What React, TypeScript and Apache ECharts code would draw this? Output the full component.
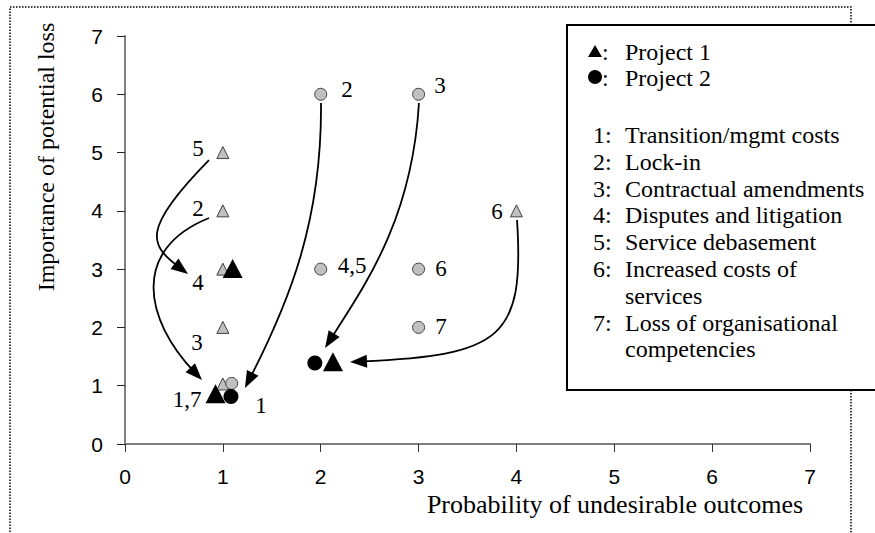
import React, { useEffect, useRef } from "react";
import * as echarts from "echarts";

// ---- data ----
const AXIS_MIN = 0;
const AXIS_MAX = 7;
const AXIS_STEP = 1;

// [probability, importance]
const project1Before: number[][] = [[1, 5], [1, 4], [1, 3], [1, 2], [1, 1.03], [4, 4]];
const project2Before: number[][] = [[2, 6], [3, 6], [2, 3], [3, 3], [3, 2], [1.09, 1.04]];
const project1After: number[][] = [[1.1, 3.01], [0.925, 0.86], [2.125, 1.41]];
const project2After: number[][] = [[1.083, 0.815], [1.94, 1.39]];

// label anchor [x, y] and text
const labelPositions: number[][] = [
  [0.746, 5.078], [0.746, 4.049], [0.746, 2.779], [0.736, 1.75], [0.634, 0.755],
  [1.39, 0.652], [2.269, 6.09], [3.219, 6.159], [2.32, 3.054], [3.229, 3.019],
  [3.229, 2.024], [3.801, 3.997],
];
const labelTexts: string[] = ["5", "2", "4", "3", "1,7", "1", "2", "3", "4,5", "6", "7", "6"];

// cubic curves: start, control 1, control 2, end (data units)
const arrowPaths: number[][] = [
  [0.858, 4.872, 0.153, 3.671, 0.255, 3.414, 0.644, 2.916],
  [0.858, 3.877, 0.051, 3.328, 0.204, 2.127, 0.787, 1.098],
  [2.003, 5.85, 2.013, 3.843, 1.686, 2.47, 1.226, 0.961],
  [3.004, 5.85, 2.933, 3.843, 2.452, 2.728, 2.044, 1.647],
  [4.006, 3.843, 4.087, 1.784, 3.832, 1.527, 2.299, 1.407],
];

const projectNames: string[] = ["Project 1", "Project 2"];
const riskNumbers: string[] = ["1:", "2:", "3:", "4:", "5:", "6:", "7:"];
const riskNames: string[] = [
  "Transition/mgmt costs",
  "Lock-in",
  "Contractual amendments",
  "Disputes and litigation",
  "Service debasement",
  "Increased costs of\nservices",
  "Loss of organisational\ncompetencies",
];
const xTitle = "Probability of undesirable outcomes";
const yTitle = "Importance of potential loss";

const SERIF = "Liberation Serif";
const SANS = "Liberation Sans";

function txt(text: string, size: number, family: string, align: string, vAlign: string) {
  return {
    text,
    fontSize: size,
    fontFamily: family,
    fill: "#000",
    align,
    verticalAlign: vAlign,
    textAlign: align,
    textVerticalAlign: vAlign,
  };
}

export default function App() {
  const ref = useRef<HTMLDivElement>(null);
  useEffect(() => {
    if (!ref.current) return;
    const chart = echarts.init(ref.current, undefined, { renderer: "svg" });

    const legendChildren: any[] = [
      {
        type: "rect",
        shape: { x: 567, y: 25, width: 330, height: 365 },
        style: { fill: "#fff", stroke: "#000", lineWidth: 2 },
      },
      {
        type: "polygon",
        shape: { points: [[588, 57], [602, 57], [595, 45]] },
        style: { fill: "#000" },
      },
      {
        type: "circle",
        shape: { cx: 595, cy: 77, r: 7 },
        style: { fill: "#000" },
      },
    ];
    projectNames.forEach((name, i) => {
      const y = 52 + i * 25.5;
      legendChildren.push({ type: "text", x: 602, y, style: txt(":", 24, SERIF, "left", "middle") });
      legendChildren.push({ type: "text", x: 625, y, style: txt(name, 24, SERIF, "left", "middle") });
    });
    let line = 0;
    riskNames.forEach((name, i) => {
      const y = 135 + line * 26.8;
      legendChildren.push({ type: "text", x: 593, y, style: txt(riskNumbers[i], 24, SERIF, "left", "middle") });
      name.split("\n").forEach((part, k) => {
        legendChildren.push({ type: "text", x: 625, y: y + k * 26.8, style: txt(part, 24, SERIF, "left", "middle") });
      });
      line += name.split("\n").length;
    });

    const option: any = {
      animation: false,
      backgroundColor: "#fff",
      grid: { left: 125, right: 65, top: 36, bottom: 89, containLabel: false },
      xAxis: {
        type: "value",
        min: AXIS_MIN,
        max: AXIS_MAX,
        interval: AXIS_STEP,
        axisLine: { show: true, onZero: false, lineStyle: { color: "#7f7f7f", width: 2 } },
        axisTick: { show: true, length: 8, lineStyle: { color: "#333", width: 1 } },
        axisLabel: { color: "#000", fontFamily: SANS, fontSize: 21, margin: 22 },
        splitLine: { show: false },
      },
      yAxis: {
        type: "value",
        min: AXIS_MIN,
        max: AXIS_MAX,
        interval: AXIS_STEP,
        axisLine: { show: true, onZero: false, lineStyle: { color: "#7f7f7f", width: 2 } },
        axisTick: { show: true, length: 8, lineStyle: { color: "#222", width: 1 } },
        axisLabel: { color: "#000", fontFamily: SANS, fontSize: 21, margin: 22 },
        splitLine: { show: false },
      },
      graphic: [
        {
          type: "rect",
          z: -10,
          shape: { x: 10, y: 7, width: 841, height: 620 },
          style: { fill: "none", stroke: "#000", lineWidth: 1.5, lineDash: [1.5, 1.5] },
        },
        {
          type: "text",
          x: 46,
          y: 157,
          rotation: Math.PI / 2,
          style: txt(yTitle, 24, SERIF, "center", "middle"),
        },
        {
          type: "text",
          x: 615,
          y: 504,
          style: txt(xTitle, 26, SERIF, "center", "middle"),
        },
        { type: "group", z: 100, children: legendChildren },
      ],
      series: [
        {
          type: "custom",
          name: "arrows",
          data: arrowPaths,
          z: 1,
          renderItem: (params: any, api: any) => {
            const p0 = api.coord([api.value(0), api.value(1)]);
            const p1 = api.coord([api.value(2), api.value(3)]);
            const p2 = api.coord([api.value(4), api.value(5)]);
            const p3 = api.coord([api.value(6), api.value(7)]);
            let dx = p3[0] - p2[0];
            let dy = p3[1] - p2[1];
            const len = Math.hypot(dx, dy) || 1;
            dx /= len;
            dy /= len;
            const L = 17;
            const W = 6.5;
            const bx = p3[0] - dx * L;
            const by = p3[1] - dy * L;
            const nx = -dy;
            const ny = dx;
            return {
              type: "group",
              children: [
                {
                  type: "bezierCurve",
                  shape: {
                    x1: p0[0], y1: p0[1],
                    cpx1: p1[0], cpy1: p1[1],
                    cpx2: p2[0], cpy2: p2[1],
                    x2: bx + dx * 6, y2: by + dy * 6,
                  },
                  style: { stroke: "#000", lineWidth: 1.8, fill: "none" },
                },
                {
                  type: "polygon",
                  shape: { points: [[p3[0], p3[1]], [bx + nx * W, by + ny * W], [bx - nx * W, by - ny * W]] },
                  style: { fill: "#000" },
                },
              ],
            };
          },
        },
        {
          type: "custom",
          name: "labels",
          data: labelPositions,
          z: 3,
          renderItem: (params: any, api: any) => {
            const p = api.coord([api.value(0), api.value(1)]);
            return {
              type: "text",
              x: p[0],
              y: p[1],
              style: txt(labelTexts[params.dataIndex], 23, SERIF, "center", "middle"),
            };
          },
        },
        {
          type: "scatter",
          name: "Project 1 (before)",
          data: project1Before,
          symbol: "triangle",
          symbolSize: [12, 12],
          itemStyle: { color: "#c0c0c0", borderColor: "#404040", borderWidth: 1, opacity: 1 },
          z: 4,
        },
        {
          type: "scatter",
          name: "Project 2 (before)",
          data: project2Before,
          symbol: "circle",
          symbolSize: 12,
          itemStyle: { color: "#c0c0c0", borderColor: "#404040", borderWidth: 1, opacity: 1 },
          z: 4,
        },
        {
          type: "scatter",
          name: "Project 1",
          data: project1After,
          symbol: "triangle",
          symbolSize: [20, 19],
          itemStyle: { color: "#000", opacity: 1 },
          z: 5,
        },
        {
          type: "scatter",
          name: "Project 2",
          data: project2After,
          symbol: "circle",
          symbolSize: 15,
          itemStyle: { color: "#000", opacity: 1 },
          z: 6,
        },
      ],
    };
    chart.setOption(option);
    return () => chart.dispose();
  }, []);

  return (
    <div
      ref={ref}
      style={{ position: "absolute", left: 0, top: 0, width: 875, height: 533, background: "#fff" }}
    />
  );
}
